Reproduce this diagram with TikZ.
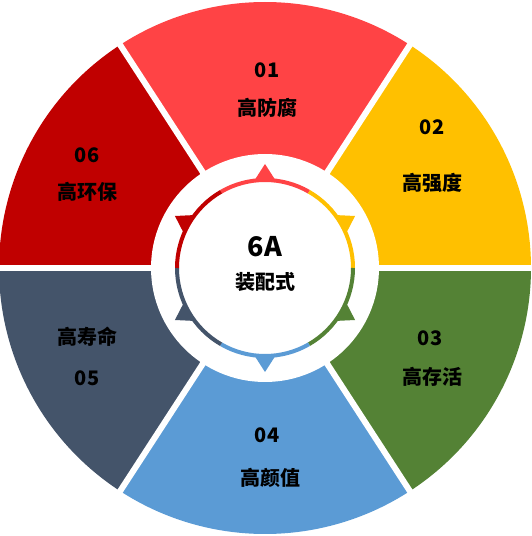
\documentclass[tikz,border=0pt]{standalone}
\usepackage{fontspec}
\setmainfont{Noto Sans CJK SC}
\definecolor{c1}{HTML}{FF4345}
\definecolor{c2}{HTML}{FFC000}
\definecolor{c3}{HTML}{548235}
\definecolor{c4}{HTML}{5B9BD5}
\definecolor{c5}{HTML}{44546A}
\definecolor{c6}{HTML}{C00000}
\begin{document}
\begin{tikzpicture}[x=1pt,y=1pt,
  lab/.style={font=\fontsize{20}{24}\selectfont\bfseries, text=black, inner sep=0pt},
  big/.style={font=\fontsize{27}{32}\selectfont\bfseries, text=black, inner sep=0pt}]
\useasboundingbox (0,0) rectangle (531,536);
\begin{scope}[shift={(265,268)}]
\foreach \a/\b/\c in {57/123/c1,0/57/c2,-57/0/c3,-123/-57/c4,180/237/c5,123/180/c6}{
  \fill[\c] (0,0) -- (\a:266pt) arc[start angle=\a, end angle=\b, radius=266pt] -- cycle;
}
\foreach \a in {0,57,123,180,237,303} \draw[white, line width=6pt] (0,0) -- (\a:280pt);
\fill[white] (0,0) circle[radius=114pt];
\foreach \a/\c in {60/c1,0/c2,-60/c3,-120/c4,180/c5,120/c6}{
  \draw[\c, line width=4pt] (\a:88pt) arc[start angle=\a, delta angle=60, radius=88pt];
  \pgfmathsetmacro\m{\a+30}
  \fill[\c] (\m-7:88pt) -- (\m:104pt) -- (\m+7:88pt) -- cycle;
}
\end{scope}
\node[lab] (n01) at (267,466) {01};
\node[lab] (t01) at (267,428) {高防腐};
\node[lab] (n02) at (432,409) {02};
\node[lab] (t02) at (432,353) {高强度};
\node[lab] (n03) at (430,198) {03};
\node[lab] (t03) at (432,159) {高存活};
\node[lab] (n04) at (267,101) {04};
\node[lab] (t04) at (270,58) {高颜值};
\node[lab] (t05) at (87,199) {高寿命};
\node[lab] (n05) at (87,158) {05};
\node[lab] (n06) at (87,381) {06};
\node[lab] (t06) at (87,344) {高环保};
\node[big] (c6a) at (265,289) {6A};
\node[lab] (czp) at (265,254) {装配式};
\end{tikzpicture}
\end{document}
